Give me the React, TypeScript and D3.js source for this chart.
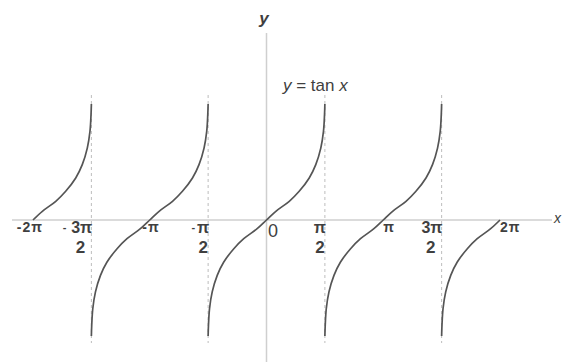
import React from "react";
import * as d3 from "d3";

// Branch centers (multiples of π) and the shape of one branch
const branchCenters = [-2, -1, 0, 1, 2];
const branchX = [-0.5, -0.497, -0.488, -0.465, -0.422, -0.366, -0.28, -0.195, -0.08, 0, 0.08, 0.195, 0.28, 0.366, 0.422, 0.465, 0.488, 0.497, 0.5];
const branchY = [-4.0, -3.63, -3.06, -2.48, -1.91, -1.45, -0.99, -0.645, -0.3, 0, 0.3, 0.645, 0.99, 1.45, 1.91, 2.48, 3.06, 3.63, 4.0];

// Asymptotes (multiples of π)
const asymptotes = [-1.5, -0.5, 0.5, 1.5];

// Tick labels
const tickPositions = [-2, -1.5, -1, -0.5, 0, 0.5, 1, 1.5, 2];
const tickLabels = ["-2π", "-3π/2", "-π", "-π/2", "0", "π/2", "π", "3π/2", "2π"];

const W = 563;
const H = 362;

export default function App() {
  const x = d3.scaleLinear().domain([-2, 2]).range([33, 500]);
  const y = d3.scaleLinear().domain([-4, 4]).range([336, 104]);
  const x0 = x(0);
  const y0 = y(0);

  const line = d3
    .line<[number, number]>()
    .x((d) => x(d[0]))
    .y((d) => y(d[1]))
    .curve(d3.curveCatmullRom.alpha(0.5));

  const branches = branchCenters.map((c) => {
    const pts: [number, number][] = [];
    branchX.forEach((bx, i) => {
      const xv = c + bx;
      if (xv >= -2 - 1e-9 && xv <= 2 + 1e-9) pts.push([xv, branchY[i]]);
    });
    return pts;
  });

  const textFill = "#3f3f3f";
  const font = "'Liberation Sans', Arial, sans-serif";

  return (
    <div style={{ position: "fixed", left: 0, top: 0, width: W, height: H, background: "#fff" }}>
      <svg width={W} height={H} style={{ display: "block" }}>
        <rect width={W} height={H} fill="#fff" />
        {/* axes */}
        <line x1={12} x2={552} y1={y0} y2={y0} stroke="#cfcfcf" strokeWidth={1.5} />
        <line x1={x0} x2={x0} y1={33} y2={H} stroke="#cfcfcf" strokeWidth={1.5} />
        {/* asymptotes */}
        {asymptotes.map((a, i) => (
          <line
            key={i}
            x1={x(a)}
            x2={x(a)}
            y1={95}
            y2={343}
            stroke="#bdbdbd"
            strokeWidth={1}
            strokeDasharray="3,3"
          />
        ))}
        {/* curves */}
        {branches.map((pts, i) => (
          <path key={i} d={line(pts) || ""} fill="none" stroke="#555" strokeWidth={1.7} />
        ))}
        {/* tick labels */}
        {tickLabels.map((lab, i) => {
          const px = x(tickPositions[i]);
          const neg = lab.startsWith("-");
          const body = neg ? lab.slice(1) : lab;
          if (body.includes("/")) {
            const [num, den] = body.split("/");
            const numW = num.length * 12;
            return (
              <g key={i} fontFamily={font} fontWeight="bold" fill={textFill}>
                {neg && (
                  <text x={px - numW - 1} y={231} fontSize={11} textAnchor="end">
                    -
                  </text>
                )}
                <text x={px + 1} y={233} fontSize={16} textAnchor="end">
                  {num}
                </text>
                <text x={px + 1 - numW / 2} y={253} fontSize={17} textAnchor="middle">
                  {den}
                </text>
              </g>
            );
          }
          if (lab === "0") {
            return (
              <text key={i} x={px + 1.5} y={237} fontSize={18} fontFamily={font} fill={textFill} textAnchor="start">
                0
              </text>
            );
          }
          return (
            <text
              key={i}
              x={neg ? px + 10 : px}
              y={232}
              fontSize={14}
              fontWeight="bold"
              fontFamily={font}
              fill={textFill}
              textAnchor={neg ? "end" : "start"}
              letterSpacing={1}
            >
              {lab}
            </text>
          );
        })}
        {/* axis labels */}
        <text x={264} y={24} fontSize={17} fontStyle="italic" fontWeight="bold" fontFamily={font} fill={textFill} textAnchor="middle">
          y
        </text>
        <text x={554} y={223} fontSize={14} fontStyle="italic" fontFamily={font} fill={textFill}>
          x
        </text>
        <text x={283} y={91} fontSize={17} fontFamily={font} fill={textFill}>
          <tspan fontStyle="italic">y</tspan>
          <tspan> = tan </tspan>
          <tspan fontStyle="italic">x</tspan>
        </text>
      </svg>
    </div>
  );
}
